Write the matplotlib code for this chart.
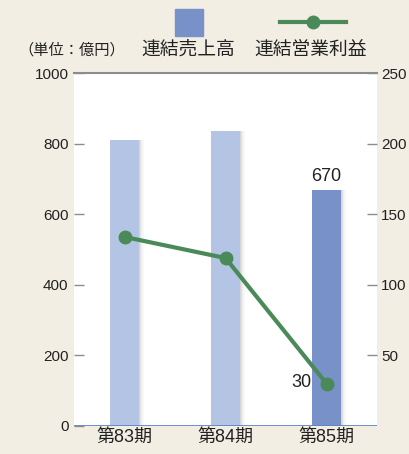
"""連結売上高 / 連結営業利益 chart
"""

import matplotlib.pyplot as plt
from matplotlib.patches import Rectangle
from matplotlib.lines import Line2D

plt.rcParams['font.family'] = ['Liberation Sans', 'Noto Sans CJK JP', 'DejaVu Sans']

periods = ['第83期', '第84期', '第85期']
sales = [812, 835, 670]
profit = [134, 119, 30]
sales_ticks = [0, 200, 400, 600, 800, 1000]
profit_ticks = [50, 100, 150, 200, 250]

BG = '#F2EEE3'
LIGHT = '#B3C4E4'
DARK = '#7891C8'
GREEN = '#4A8A58'
GRAY = '#8C8C8C'
TXT = '#222222'

fig = plt.figure(figsize=(4.09, 4.54), dpi=100, facecolor=BG)
ax = fig.add_axes([0.181, 0.0617, 0.741, 0.777])
ax.set_facecolor('white')

x = list(range(len(periods)))
bar_w = 0.28
colors = [LIGHT] * (len(periods) - 1) + [DARK]

# soft shadow on the right side of each bar
for i in x:
    for k, a in enumerate([0.4, 0.28, 0.16, 0.08]):
        ax.bar(i + bar_w / 2 + 0.012 * k + 0.006, sales[i], width=0.012,
               color='#9a9a9a', alpha=a, linewidth=0, zorder=1)
ax.bar(x, sales, width=bar_w, color=colors, linewidth=0, zorder=2)

ax.set_xlim(-0.5, 2.5)
ax.set_ylim(0, 1000)
ax.set_yticks(sales_ticks)
ax.set_xticks(x)
ax.set_xticklabels(periods, fontsize=13, color=TXT)
ax.tick_params(axis='x', length=0, pad=2)
ax.tick_params(axis='y', direction='in', length=7, width=1, color=GRAY,
               labelsize=11, labelcolor=TXT, pad=4)

for side in ['left', 'right', 'bottom']:
    ax.spines[side].set_visible(False)
ax.spines['top'].set_color(GRAY)
ax.spines['top'].set_linewidth(1.5)
ax.axhline(0, color='#5B86C8', linewidth=2, zorder=3)

ax2 = ax.twinx()
ax2.set_ylim(0, 250)
ax2.set_yticks(profit_ticks)
ax2.tick_params(axis='y', direction='in', length=7, width=1, color=GRAY,
                labelsize=11, labelcolor=TXT, pad=3)
for side in ['left', 'right', 'bottom', 'top']:
    ax2.spines[side].set_visible(False)
ax2.plot(x, profit, color=GREEN, linewidth=3, marker='o', markersize=9,
         zorder=5)

ax.text(x[-1], sales[-1] + 12, str(sales[-1]), ha='center', va='bottom',
        fontsize=13, color=TXT)
ax2.text(x[-1] - 0.15, profit[-1] + 1, str(profit[-1]), ha='right',
         va='center', fontsize=13, color=TXT)

# legend drawn by hand (swatch above label)
W, H = 409, 454
fig.add_artist(Rectangle((175 / W, 1 - 36 / H), 28 / W, 27 / H,
                         transform=fig.transFigure, color=DARK))
fig.add_artist(Line2D([280 / W, 346 / W], [1 - 22 / H, 1 - 22 / H],
                      transform=fig.transFigure, color=GREEN, linewidth=3))
fig.add_artist(Line2D([313 / W], [1 - 22 / H], transform=fig.transFigure,
                      color=GREEN, marker='o', markersize=9))
fig.text(18 / W, 1 - 50 / H, '（単位：億円）', ha='left', va='center',
         fontsize=11, color=TXT)
fig.text(188 / W, 1 - 50 / H, '連結売上高', ha='center', va='center',
         fontsize=13.5, color=TXT)
fig.text(311 / W, 1 - 50 / H, '連結営業利益', ha='center', va='center',
         fontsize=13.5, color=TXT)

fig.savefig('out.png', facecolor=BG)
